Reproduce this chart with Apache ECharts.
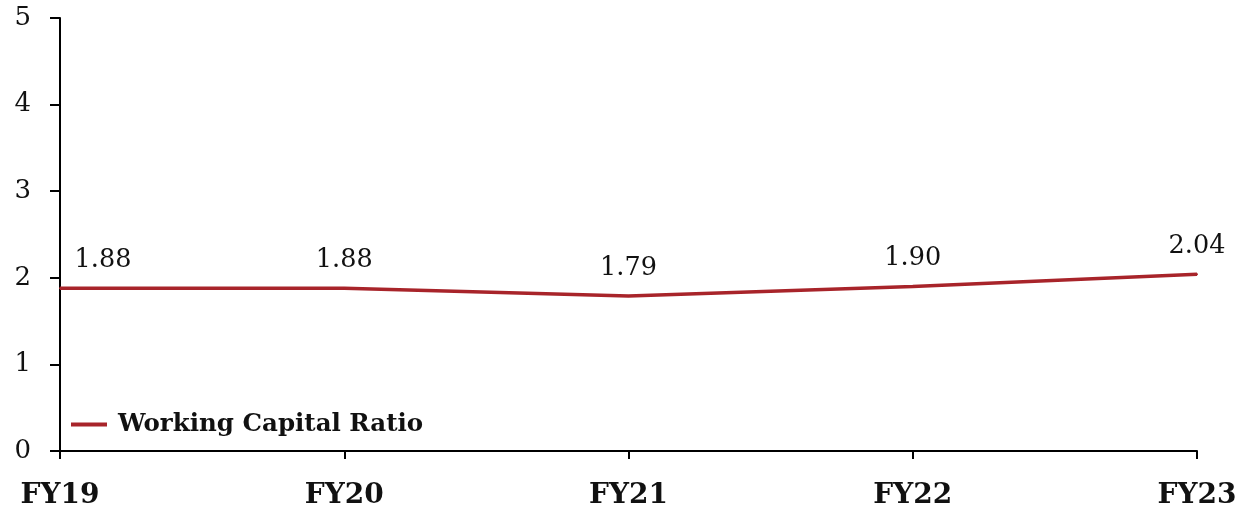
<!DOCTYPE html>
<html><head><meta charset="utf-8">
<script src="https://cdn.jsdelivr.net/npm/echarts@6/dist/echarts.min.js"></script>
<style>html,body{margin:0;padding:0;background:#fff}#c{width:1243px;height:511px}</style>
</head><body><div id="c"></div>
<script>
const categories = ['FY19','FY20','FY21','FY22','FY23'];
const ratioValues = [1.88, 1.88, 1.79, 1.90, 2.04];
const seriesName = 'Working Capital Ratio';
const FONT = '"DejaVu Serif", Georgia, serif';
const LINE_COLOR = '#a8242a';
const chart = echarts.init(document.getElementById('c'));
chart.setOption({
  animation: false,
  backgroundColor: '#fff',
  grid: { left: 60, right: 46, top: 18, bottom: 60 },
  legend: {
    left: 66, top: 407, itemWidth: 36, itemHeight: 4, itemGap: 10,
    icon: 'rect',
    itemStyle: { color: LINE_COLOR, opacity: 1 },
    textStyle: { fontFamily: FONT, fontSize: 24.5, fontWeight: 'bold', color: '#111', padding: [0, 0, 0, 6] },
    data: [seriesName]
  },
  xAxis: {
    type: 'category', data: categories, boundaryGap: false,
    axisLine: { lineStyle: { color: '#000', width: 2 } },
    axisTick: { alignWithLabel: true, length: 8, lineStyle: { color: '#000', width: 2 } },
    axisLabel: { fontFamily: FONT, fontSize: 28, fontWeight: 'bold', color: '#111', margin: 31 },
    splitLine: { show: false }
  },
  yAxis: {
    type: 'value', min: 0, max: 5, interval: 1,
    axisLine: { show: true, lineStyle: { color: '#000', width: 2 } },
    axisTick: { show: true, length: 10, lineStyle: { color: '#000', width: 2 } },
    axisLabel: { fontFamily: FONT, fontSize: 26, color: '#111', margin: 29 },
    splitLine: { show: false }
  },
  series: [{
    name: seriesName, type: 'line',
    data: ratioValues.map((v, i) => i === 0 ? { value: v, label: { offset: [43, 0] } } : v),
    symbol: 'circle', symbolSize: 2, showSymbol: true, showAllSymbol: true,
    lineStyle: { color: LINE_COLOR, width: 3.5 },
    itemStyle: { color: LINE_COLOR },
    label: {
      show: true, position: 'top', distance: 14,
      fontFamily: FONT, fontSize: 25.5, color: '#111',
      formatter: p => Number(p.value).toFixed(2)
    }
  }]
});
</script></body></html>
